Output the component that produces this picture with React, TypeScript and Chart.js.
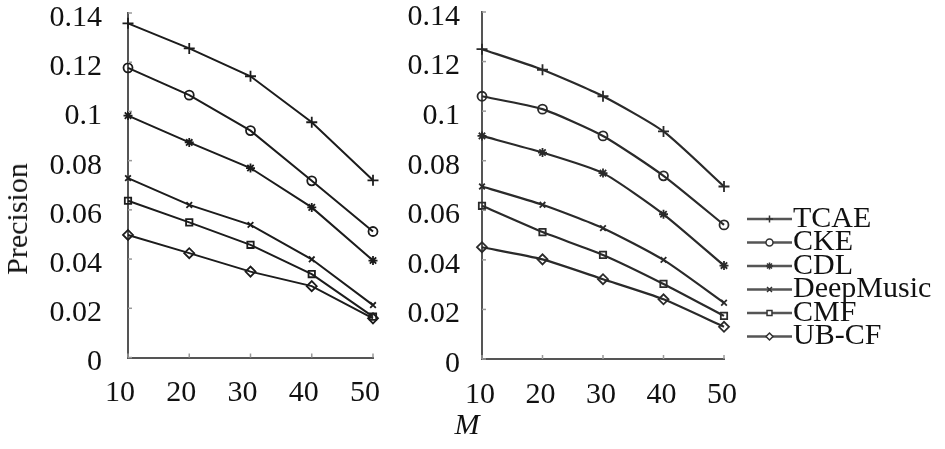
import React, { useEffect, useRef } from 'react';
import { Chart, registerables } from 'chart.js';
import { drawPoint } from 'chart.js/helpers';

Chart.register(...registerables);

// ---------- data ----------
const mLabels = ['10', '20', '30', '40', '50'];
const seriesNames = ['TCAE', 'CKE', 'CDL', 'DeepMusic', 'CMF', 'UB-CF'];
const yTickValues = [0, 0.02, 0.04, 0.06, 0.08, 0.1, 0.12, 0.14];
const yTickLabels = ['0', '0.02', '0.04', '0.06', '0.08', '0.1', '0.12', '0.14'];

// left panel
const leftTCAE = [0.1358, 0.1256, 0.1143, 0.0956, 0.072];
const leftCKE = [0.1177, 0.1066, 0.0922, 0.0718, 0.0512];
const leftCDL = [0.0983, 0.0874, 0.077, 0.061, 0.0394];
const leftDeepMusic = [0.0729, 0.062, 0.0539, 0.0399, 0.0213];
const leftCMF = [0.0637, 0.0549, 0.0458, 0.0339, 0.0166];
const leftUBCF = [0.0498, 0.0424, 0.0349, 0.029, 0.0159];

// right panel
const rightTCAE = [0.125, 0.1167, 0.106, 0.0918, 0.0696];
const rightCKE = [0.106, 0.1008, 0.09, 0.0739, 0.0541];
const rightCDL = [0.09, 0.0833, 0.075, 0.0584, 0.0377];
const rightDeepMusic = [0.0696, 0.0622, 0.0528, 0.04, 0.0227];
const rightCMF = [0.0618, 0.0512, 0.042, 0.0303, 0.0174];
const rightUBCF = [0.0451, 0.0402, 0.0322, 0.0241, 0.013];

const leftSeries = [leftTCAE, leftCKE, leftCDL, leftDeepMusic, leftCMF, leftUBCF];
const rightSeries = [rightTCAE, rightCKE, rightCDL, rightDeepMusic, rightCMF, rightUBCF];

// ---------- styles ----------
const FONT = "'Liberation Serif', 'Times New Roman', Times, serif";
const pointStyles = ['cross', 'circle', 'star', 'crossRot', 'rect', 'rectRot'];
const pointRadii = [5.5, 4.5, 4.5, 4, 4.5, 5];

const innerTicks = {
  id: 'innerTicks',
  afterDraw(chart: any) {
    const { ctx, chartArea } = chart;
    const xs = chart.scales.x;
    const ys = chart.scales.y;
    ctx.save();
    ctx.strokeStyle = '#9a9a9a';
    ctx.lineWidth = 1.5;
    ys.ticks.forEach((t: any) => {
      const py = ys.getPixelForValue(t.value);
      ctx.beginPath();
      ctx.moveTo(chartArea.left, py);
      ctx.lineTo(chartArea.left + 4, py);
      ctx.stroke();
    });
    xs.ticks.forEach((_t: any, i: number) => {
      const px = xs.getPixelForTick(i);
      ctx.beginPath();
      ctx.moveTo(px, chartArea.bottom);
      ctx.lineTo(px, chartArea.bottom - 4);
      ctx.stroke();
    });
    ctx.restore();
  },
};

const sideLegend = {
  id: 'sideLegend',
  afterDraw(chart: any) {
    const opts = chart.options.plugins.sideLegend;
    if (!opts || !opts.show) return;
    const { ctx } = chart;
    chart.data.datasets.forEach((ds: any, i: number) => {
      const y = opts.top + i * opts.step;
      ctx.save();
      ctx.strokeStyle = '#555';
      ctx.lineWidth = 2.5;
      ctx.beginPath();
      ctx.moveTo(opts.x0, y);
      ctx.lineTo(opts.x1, y);
      ctx.stroke();
      ctx.strokeStyle = '#333';
      ctx.fillStyle = ds.pointStyle === 'star' ? '#333' : '#fff';
      ctx.lineWidth = 1.5;
      drawPoint(ctx, { pointStyle: ds.pointStyle, radius: 3.5, rotation: 0, borderWidth: 1.5 }, (opts.x0 + opts.x1) / 2, y);
      ctx.fillStyle = '#111';
      ctx.font = `30px ${FONT}`;
      ctx.textBaseline = 'middle';
      ctx.textAlign = 'left';
      ctx.fillText(ds.label, opts.x1 + 1, y);
      ctx.restore();
    });
  },
};

function buildConfig(series: number[][], p: any) {
  return {
    type: 'line',
    data: {
      labels: mLabels,
      datasets: series.map((vals, i) => ({
        label: seriesNames[i],
        data: vals,
        borderColor: p.lineColor,
        borderWidth: p.lineWidth,
        tension: p.tension,
        pointStyle: pointStyles[i],
        pointRadius: pointRadii[i],
        pointBorderColor: p.lineColor,
        pointBorderWidth: 1.8,
        pointBackgroundColor: pointStyles[i] === 'star' ? p.lineColor : 'rgba(255,255,255,0)',
        fill: false,
      })),
    },
    options: {
      responsive: false,
      animation: false,
      layout: { padding: { top: p.top, right: p.right, bottom: 0, left: 0 } },
      plugins: {
        legend: { display: false },
        tooltip: { enabled: false },
        sideLegend: p.legend,
      },
      scales: {
        x: {
          type: 'category',
          offset: false,
          grid: { display: false, drawTicks: false },
          border: { display: true, color: '#555', width: 2 },
          ticks: {
            color: '#111',
            padding: p.xPad,
            labelOffset: p.xLabelOffset,
            font: { family: FONT, size: 30, lineHeight: 0.8 },
            maxRotation: 0,
            autoSkip: false,
          },
          afterFit: (scale: any) => {
            scale.height = p.xHeight;
            scale.paddingLeft = 0;
            scale.paddingRight = 0;
          },
        },
        y: {
          type: 'linear',
          min: 0,
          max: 0.14,
          afterBuildTicks: (scale: any) => {
            scale.ticks = yTickValues.map((v) => ({ value: v }));
          },
          grid: { display: false, drawTicks: false },
          border: { display: true, color: '#555', width: 2 },
          ticks: {
            color: '#111',
            padding: p.yPad,
            labelOffset: 5,
            font: { family: FONT, size: 30, lineHeight: 0.8 },
            callback: (v: number) => {
              const idx = yTickValues.findIndex((t) => Math.abs(t - v) < 1e-9);
              return idx >= 0 ? yTickLabels[idx] : '';
            },
          },
          afterFit: (scale: any) => {
            scale.width = p.yWidth;
            scale.paddingTop = 0;
            scale.paddingBottom = 0;
          },
        },
      },
    },
    plugins: [innerTicks, sideLegend],
  } as any;
}

function Panel({ series, p, left, width }: any) {
  const ref = useRef<HTMLCanvasElement>(null);
  useEffect(() => {
    const chart = new Chart(ref.current as HTMLCanvasElement, buildConfig(series, p));
    return () => chart.destroy();
  }, []);
  return (
    <canvas
      ref={ref}
      width={width}
      height={449}
      style={{ position: 'absolute', left, top: 0, width, height: 449 }}
    />
  );
}

const leftParams = {
  lineColor: '#1c1c1c',
  lineWidth: 2,
  tension: 0,
  top: 13,
  right: 27,
  xHeight: 449 - 357.5,
  xPad: 24,
  xLabelOffset: -8,
  yWidth: 128,
  yPad: 26,
  legend: { show: false },
};

const rightParams = {
  lineColor: '#2a2a2a',
  lineWidth: 2.2,
  tension: 0.2,
  top: 12,
  right: 545 - 324,
  xHeight: 449 - 359,
  xPad: 24,
  xLabelOffset: -2,
  yWidth: 82,
  yPad: 22,
  legend: { show: true, x0: 347, x1: 392, top: 219, step: 23.5 },
};

export default function App() {
  return (
    <div style={{ position: 'fixed', left: 0, top: 0, width: 945, height: 449, background: '#fff', overflow: 'hidden' }}>
      <Panel series={leftSeries} p={leftParams} left={0} width={400} />
      <Panel series={rightSeries} p={rightParams} left={400} width={545} />
      <div
        style={{
          position: 'absolute',
          left: 17,
          top: 219,
          transform: 'translate(-50%, -50%) rotate(-90deg)',
          fontFamily: FONT,
          fontSize: 30,
          lineHeight: 1,
          color: '#111',
          whiteSpace: 'nowrap',
        }}
      >
        Precision
      </div>
      <div
        style={{
          position: 'absolute',
          left: 467,
          top: 424,
          transform: 'translate(-50%, -50%)',
          fontFamily: FONT,
          fontStyle: 'italic',
          fontSize: 30,
          lineHeight: 1,
          color: '#111',
        }}
      >
        M
      </div>
    </div>
  );
}
